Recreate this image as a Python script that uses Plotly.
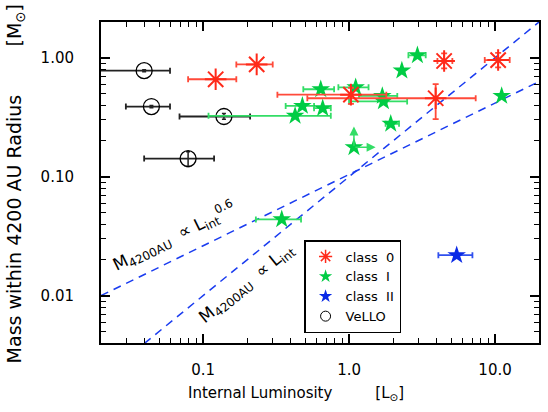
import plotly.graph_objects as go
import math

# ---------------- data ----------------
# class 0 (red asterisks)
c0_L = [0.122, 0.233, 1.03, 3.92, 4.48, 10.5]
c0_M = [0.66, 0.88, 0.49, 0.457, 0.94, 0.957]
c0_L_lo = [0.079, 0.169, 0.323, 0.518, 4.03, 8.5]
c0_L_hi = [0.169, 0.30, 1.8, 7.37, 5.1, 12.6]
c0_M_lo = [None, None, 0.41, 0.305, 0.815, 0.83]
c0_M_hi = [None, None, 0.56, 0.60, 1.09, 1.10]

# class I (green stars)
c1_L = [2.94, 2.30, 11.1, 0.64, 1.11, 1.69, 1.72, 0.479, 0.66, 0.427, 1.93, 0.346]
c1_M = [1.05, 0.78, 0.478, 0.544, 0.565, 0.478, 0.43, 0.394, 0.377, 0.325, 0.279, 0.0438]
c1_L_lo = [2.55, None, None, 0.486, 0.845, 1.17, 1.0, 0.368, 0.576, 0.109, 1.78, 0.23]
c1_L_hi = [3.35, None, None, 0.79, 1.36, 2.14, 2.5, 0.576, 0.75, 0.75, 2.2, 0.469]

# class I lower limit (arrows)
c1lim_L = [1.08]
c1lim_M = [0.177]
c1lim_L_arrow = [1.52]
c1lim_M_arrow = [0.265]

# class II (blue star)
c2_L = [5.46]
c2_M = [0.0219]
c2_L_lo = [4.09]
c2_L_hi = [7.0]

# VeLLOs (open circles)
v_L = [0.0395, 0.0443, 0.139, 0.079]
v_M = [0.78, 0.389, 0.321, 0.142]
v_L_lo = [0.01, 0.0296, 0.069, 0.0395]
v_L_hi = [0.0594, 0.0594, 0.21, 0.119]
v_M_lo = [0.765, 0.38, 0.305, 0.122]
v_M_hi = [0.795, 0.398, 0.34, 0.162]

# model relations (endpoints of straight lines in log-log)
rel06_L = [0.02, 20.0]
rel06_M = [0.01, 0.631]
rel1_L = [0.02, 20.0]
rel1_M = [0.002, 2.0]

x_tickvals = [0.1, 1.0, 10.0]
x_ticktext = ["0.1", "1.0", "10.0"]
y_tickvals = [0.01, 0.1, 1.0]
y_ticktext = ["0.01", "0.10", "1.00"]
minor_vals = [m * 10 ** e for e in range(-3, 2) for m in range(2, 10)]

# ---------------- helpers ----------------
def errs(center, lo, hi):
    plus, minus = [], []
    for c, l, h in zip(center, lo, hi):
        if l is None or h is None:
            plus.append(None)
            minus.append(None)
        else:
            plus.append(h - c)
            minus.append(c - l)
    return plus, minus

RED = "#ff2a1a"
RED_ERR = "#ff4a3a"
GREEN = "#00cc44"
GREEN_ERR = "#33dd66"
BLUE = "#0a2ae6"
LINEBLUE = "#1a3cf0"
FONT = "DejaVu Sans"

fig = go.Figure()

# relation lines
for Ls, Ms in [(rel06_L, rel06_M), (rel1_L, rel1_M)]:
    fig.add_trace(go.Scatter(x=Ls, y=Ms, mode="lines",
                             line=dict(color=LINEBLUE, width=1.5, dash="8px,6px"),
                             showlegend=False, hoverinfo="skip"))

# VeLLO
p, m = errs(v_L, v_L_lo, v_L_hi)
yp, ym = errs(v_M, v_M_lo, v_M_hi)
fig.add_trace(go.Scatter(x=v_L, y=v_M, mode="markers",
                         marker=dict(symbol="circle-open", size=16, color="black",
                                     line=dict(width=1.3)),
                         error_x=dict(type="data", array=p, arrayminus=m, color="#222222",
                                      thickness=1.8, width=3),
                         error_y=dict(type="data", array=yp, arrayminus=ym, color="#222222",
                                      thickness=1.5, width=2),
                         showlegend=False))

# class I
p, m = errs(c1_L, c1_L_lo, c1_L_hi)
fig.add_trace(go.Scatter(x=c1_L, y=c1_M, mode="markers",
                         marker=dict(symbol="star", size=14, color=GREEN, line=dict(width=0)),
                         error_x=dict(type="data", array=p, arrayminus=m, color=GREEN_ERR,
                                      thickness=1.8, width=3),
                         showlegend=False))
fig.add_trace(go.Scatter(x=c1lim_L, y=c1lim_M, mode="markers",
                         marker=dict(symbol="star", size=14, color=GREEN, line=dict(width=0)),
                         showlegend=False))

# class 0
p, m = errs(c0_L, c0_L_lo, c0_L_hi)
yp, ym = errs(c0_M, c0_M_lo, c0_M_hi)
fig.add_trace(go.Scatter(x=c0_L, y=c0_M, mode="markers",
                         marker=dict(symbol="asterisk-open", size=18, color=RED,
                                     line=dict(color=RED, width=2)),
                         error_x=dict(type="data", array=p, arrayminus=m, color=RED_ERR,
                                      thickness=1.8, width=3),
                         error_y=dict(type="data", array=yp, arrayminus=ym, color=RED_ERR,
                                      thickness=1.8, width=3),
                         showlegend=False))

# class II
p, m = errs(c2_L, c2_L_lo, c2_L_hi)
fig.add_trace(go.Scatter(x=c2_L, y=c2_M, mode="markers",
                         marker=dict(symbol="star", size=14, color=BLUE, line=dict(width=0)),
                         error_x=dict(type="data", array=p, arrayminus=m, color="#3050ee",
                                      thickness=1.8, width=3),
                         showlegend=False))

# legend-only traces
fig.add_trace(go.Scatter(x=[None], y=[None], mode="markers", name="class\u00a0\u00a00",
                         marker=dict(symbol="asterisk-open", size=11, color=RED,
                                     line=dict(color=RED, width=1.5))))
fig.add_trace(go.Scatter(x=[None], y=[None], mode="markers", name="class\u00a0\u00a0I",
                         marker=dict(symbol="star", size=10, color=GREEN)))
fig.add_trace(go.Scatter(x=[None], y=[None], mode="markers", name="class\u00a0\u00a0II",
                         marker=dict(symbol="star", size=10, color=BLUE)))
fig.add_trace(go.Scatter(x=[None], y=[None], mode="markers", name="VeLLO",
                         marker=dict(symbol="circle-open", size=10, color="black",
                                     line=dict(width=1))))

# lower-limit arrows
for L, M, La, Ma in zip(c1lim_L, c1lim_M, c1lim_L_arrow, c1lim_M_arrow):
    for hx, hy in [(L, Ma), (La, M)]:
        fig.add_annotation(x=math.log10(hx), y=math.log10(hy),
                           ax=math.log10(L), ay=math.log10(M),
                           xref="x", yref="y", axref="x", ayref="y",
                           showarrow=True, arrowhead=2, arrowsize=1.2,
                           arrowwidth=1.5, arrowcolor=GREEN_ERR, text="",
                           standoff=0, startstandoff=0)

# relation labels
fig.add_annotation(x=-1.199, y=-1.50, xref="x", yref="y", showarrow=False,
                   text="M<sub>4200AU</sub>\u00a0 \u221d L<sub>int</sub><sup>0.6</sup>",
                   textangle=-26, font=dict(family=FONT, size=17, color="black"))
fig.add_annotation(x=-0.705, y=-1.902, xref="x", yref="y", showarrow=False,
                   text="M<sub>4200AU</sub>\u00a0 \u221d L<sub>int</sub>",
                   textangle=-39, font=dict(family=FONT, size=17, color="black"))

W, H = 548, 412
ML, MR, MT, MB = 101, 7, 22, 69
pw, ph = W - ML - MR, H - MT - MB

# axis titles (pixel positions converted to paper coords)
fig.add_annotation(x=(297 - ML) / pw, y=(H - MB - 394) / ph, xref="paper", yref="paper",
                   xanchor="center", yanchor="middle", showarrow=False,
                   text="Internal Luminosity" + "\u00a0" * 9 + "[L<sub>\u2299</sub>]",
                   font=dict(family=FONT, size=15, color="black"))
fig.add_annotation(x=(15 - ML) / pw, y=(H - MB - 184) / ph, xref="paper", yref="paper",
                   xanchor="center", yanchor="middle", showarrow=False,
                   text="Mass within 4200 AU Radius" + "\u00a0" * 8 + "[M<sub>\u2299</sub>]",
                   textangle=-90, font=dict(family=FONT, size=19, color="black"))

axis_common = dict(type="log", showline=True, linecolor="black", linewidth=2,
                   mirror="allticks", ticks="inside", ticklen=9, tickwidth=1.5,
                   tickcolor="black", showgrid=False, zeroline=False,
                   tickfont=dict(family=FONT, size=15, color="black"),
                   minor=dict(ticks="inside", ticklen=5, tickwidth=1.2,
                              tickcolor="black", showgrid=False, tickvals=minor_vals))

fig.update_xaxes(**axis_common, range=[math.log10(0.02), math.log10(20)],
                 tickvals=x_tickvals, ticktext=x_ticktext, ticklabelstandoff=12)
fig.update_yaxes(**axis_common, range=[math.log10(0.004), math.log10(2.0)],
                 tickvals=y_tickvals, ticktext=y_ticktext, ticklabelstandoff=22)

fig.update_layout(
    width=W, height=H,
    margin=dict(l=ML, r=MR, t=MT, b=MB),
    plot_bgcolor="white", paper_bgcolor="white",
    font=dict(family=FONT, size=15, color="black"),
    legend=dict(x=(305 - ML) / pw, y=(H - MB - 240) / ph, xanchor="left", yanchor="top",
                bordercolor="black", borderwidth=1.5, bgcolor="white",
                font=dict(family=FONT, size=13, color="black"),
                itemwidth=30, tracegroupgap=0),
)

fig.write_html("out.html", config={"displayModeBar": False},
               post_script="document.body.style.margin='0px';")
